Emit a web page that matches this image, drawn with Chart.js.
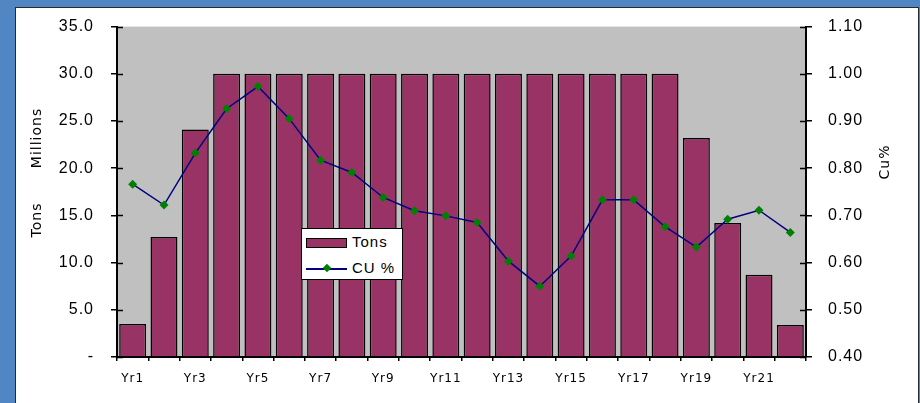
<!DOCTYPE html>
<html>
<head>
<meta charset="utf-8">
<script src="https://cdn.jsdelivr.net/npm/chart.js@4.4.1/dist/chart.umd.min.js"></script>
<style>
  html, body { margin: 0; padding: 0; }
  body { width: 920px; height: 403px; overflow: hidden; position: relative; background: #4f86c3; }
  #panel { position: absolute; left: 15px; top: 7px; width: 902px; height: 400px; background: #fff; border: 1px solid #2a2a2a; }
  #wrap { position: absolute; left: 0; top: 0; width: 920px; height: 403px; }
  #legend { position: absolute; left: 301px; top: 228px; width: 100px; height: 50px; background: #fff; border: 1px solid #000;
            font: 15px "Liberation Sans", Arial, sans-serif; letter-spacing: 1px; color: #000; }
  #legend .sw-bar { position: absolute; left: 4px; top: 9px; width: 39px; height: 8px; background: #993366; border: 1px solid #000; }
  #legend .sw-line { position: absolute; left: 4px; top: 39px; width: 41px; height: 2px; background: #000080; }
  #legend .sw-dot { position: absolute; left: 22px; top: 36px; width: 6px; height: 6px; background: #008000; transform: rotate(45deg); }
  #legend .txt { position: absolute; left: 50px; line-height: 16px; }
</style>
</head>
<body>
<div id="panel"></div>
<div id="wrap"><canvas id="chart" width="920" height="403"></canvas></div>
<div id="legend">
  <span class="sw-bar"></span><span class="txt" style="top:5px">Tons</span>
  <span class="sw-line"></span><span class="sw-dot"></span><span class="txt" style="top:31px">CU %</span>
</div>
<script>
// ----- Data -----
const categories = ["Yr1", "Yr2", "Yr3", "Yr4", "Yr5", "Yr6", "Yr7", "Yr8", "Yr9", "Yr10", "Yr11",
  "Yr12", "Yr13", "Yr14", "Yr15", "Yr16", "Yr17", "Yr18", "Yr19", "Yr20", "Yr21", "Yr22"];
const tons = [3.5, 12.7, 24.1, 30.0, 30.0, 30.0, 30.0, 30.0, 30.0, 30.0, 30.0,
  30.0, 30.0, 30.0, 30.0, 30.0, 30.0, 30.0, 23.2, 14.2, 8.7, 3.4];
const cuPct = [0.766, 0.722, 0.832, 0.926, 0.973, 0.905, 0.817, 0.791, 0.738, 0.710, 0.699,
  0.685, 0.603, 0.550, 0.614, 0.733, 0.733, 0.676, 0.633, 0.692, 0.711, 0.664];
const leftTitles = ["Millions", "Tons"];
const rightTitle = "Cu%";

// ----- Plugins -----
const plotBg = {
  id: "plotBg",
  beforeDraw(chart) {
    const { ctx, chartArea: a } = chart;
    ctx.save();
    ctx.fillStyle = "#c0c0c0";
    ctx.fillRect(a.left, a.top, a.right - a.left, a.bottom - a.top);
    ctx.restore();
    ctx.letterSpacing = "1px";
  }
};

// tick marks that cross the axis (inner half)
const innerTicks = {
  id: "innerTicks",
  afterDraw(chart) {
    const { ctx, scales: { y, y1 } } = chart;
    ctx.save();
    ctx.strokeStyle = "#000";
    ctx.lineWidth = 1.5;
    ctx.beginPath();
    y.ticks.forEach((t) => {
      const py = Math.round(y.getPixelForValue(t.value)) + 0.5;
      ctx.moveTo(y.right, py); ctx.lineTo(y.right + 6, py);
    });
    y1.ticks.forEach((t) => {
      const py = Math.round(y1.getPixelForValue(t.value)) + 0.5;
      ctx.moveTo(y1.left - 6, py); ctx.lineTo(y1.left, py);
    });
    ctx.stroke();
    ctx.restore();
  }
};

const axisTitles = {
  id: "axisTitles",
  afterDraw(chart) {
    const { ctx } = chart;
    ctx.save();
    ctx.fillStyle = "#000";
    ctx.font = '14px "DejaVu Sans", sans-serif';
    ctx.textAlign = "center";
    ctx.textBaseline = "middle";
    const put = (txt, x, y) => {
      ctx.save();
      ctx.translate(x, y);
      ctx.rotate(-Math.PI / 2);
      ctx.fillText(txt, 0, 0);
      ctx.restore();
    };
    put(leftTitles[0], 37, 138);
    put(leftTitles[1], 37, 220);
    put(rightTitle, 885, 162);
    ctx.restore();
  }
};

// ----- Chart -----
const ctx = document.getElementById("chart").getContext("2d");
new Chart(ctx, {
  data: {
    labels: categories,
    datasets: [
      {
        type: "line",
        label: "CU %",
        data: cuPct,
        yAxisID: "y1",
        borderColor: "#000080",
        borderWidth: 1.5,
        pointStyle: "rectRot",
        pointRadius: 4.5,
        pointBackgroundColor: "#008000",
        pointBorderColor: "#008000",
        pointBorderWidth: 0,
        tension: 0,
        order: 0
      },
      {
        type: "bar",
        label: "Tons",
        data: tons,
        yAxisID: "y",
        backgroundColor: "#993366",
        borderColor: "#000",
        borderWidth: 1.5,
        categoryPercentage: 0.86,
        barPercentage: 1,
        order: 1
      }
    ]
  },
  options: {
    responsive: false,
    animation: false,
    layout: { padding: { top: 25, left: 0, right: 0, bottom: 0 } },
    plugins: { legend: { display: false }, tooltip: { enabled: false } },
    scales: {
      x: {
        type: "category",
        offset: true,
        afterFit: (s) => { s.height = 46; },
        grid: { offset: true, drawOnChartArea: false, tickLength: 4, color: "#000", lineWidth: 1.5 },
        border: { color: "#000", width: 2 },
        ticks: {
          autoSkip: false,
          maxRotation: 0,
          padding: 11,
          color: "#000",
          font: { family: "DejaVu Sans", size: 12 },
          callback: (v, i) => (i % 2 === 0 ? categories[i] : "")
        }
      },
      y: {
        position: "left",
        min: 0,
        max: 35,
        afterFit: (s) => { s.width = 117; },
        grid: { drawOnChartArea: false, tickLength: 6, color: "#000", lineWidth: 1.5 },
        border: { color: "#000", width: 2 },
        ticks: {
          stepSize: 5,
          padding: 17,
          color: "#000",
          font: { family: "Liberation Sans", size: 16 },
          callback: (v) => (v === 0 ? "-" : v.toFixed(1))
        }
      },
      y1: {
        position: "right",
        min: 0.4,
        max: 1.1,
        afterFit: (s) => { s.width = 114; },
        grid: { drawOnChartArea: false, tickLength: 6, color: "#000", lineWidth: 1.5 },
        border: { color: "#000", width: 2 },
        ticks: {
          stepSize: 0.1,
          padding: 16,
          color: "#000",
          font: { family: "Liberation Sans", size: 16 },
          callback: (v) => v.toFixed(2)
        }
      }
    }
  },
  plugins: [plotBg, innerTicks, axisTitles]
});
</script>
</body>
</html>
